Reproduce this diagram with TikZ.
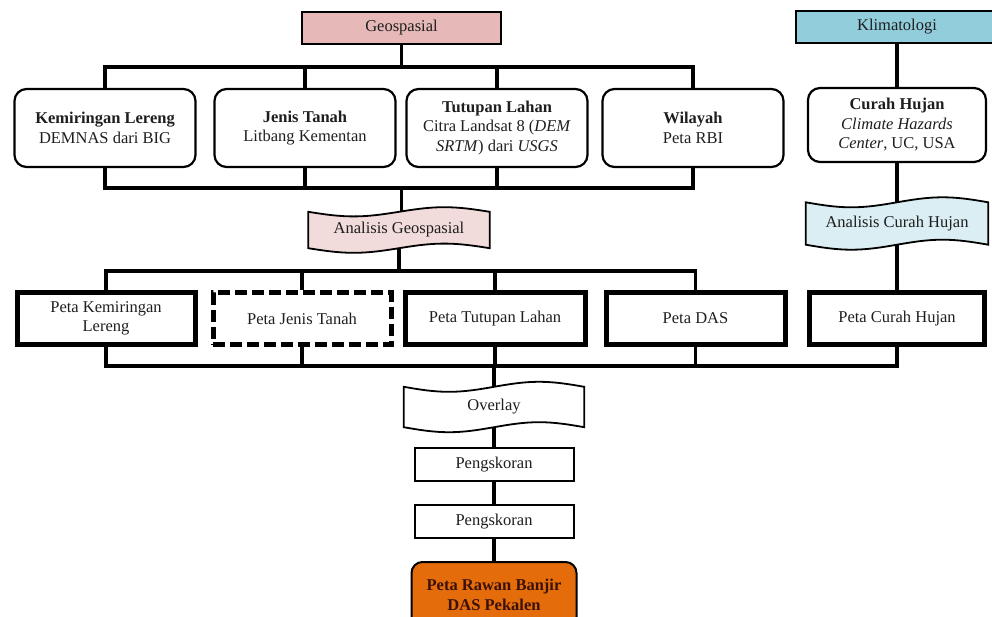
\documentclass[tikz,border=0pt]{standalone}
\usepackage{fontspec}
\setmainfont{Liberation Serif}
\usetikzlibrary{calc,backgrounds}
\definecolor{geofill}{RGB}{230,184,183}
\definecolor{klimfill}{RGB}{146,205,220}
\definecolor{agfill}{RGB}{242,220,219}
\definecolor{achfill}{RGB}{219,238,243}
\definecolor{finfill}{RGB}{228,108,10}
\definecolor{fintext}{RGB}{60,18,8}
\definecolor{txt}{RGB}{30,30,30}
\tikzset{
  every node/.style={font=\fontsize{16.5}{19.5}\selectfont, text=txt, align=center, inner sep=0pt},
  headbox/.style={draw=black, line width=2pt, minimum height=32pt},
  srcbox/.style={draw=black, line width=2.2pt, rounded corners=12pt, minimum width=181pt, minimum height=78pt},
  mapbox/.style={draw=black, line width=5pt, minimum width=178pt, minimum height=52pt},
  mapdash/.style={mapbox, dash pattern=on 12pt off 5pt},
  scorebox/.style={draw=black, line width=2pt, minimum width=159pt, minimum height=33pt},
  finalbox/.style={draw=black, line width=2pt, rounded corners=11pt, fill=finfill, minimum width=165pt, minimum height=66pt, text=fintext, font=\fontsize{16.5}{19.5}\selectfont\bfseries},
  tapenode/.style={minimum width=#1},
  conn/.style={draw=black, line width=3.2pt},
}
\newcommand\tapeshape[3]{%
  \begin{scope}[on background layer]
  \path let \p1=(#1.north west), \p2=(#1.south east), \n1={(\x2-\x1)/4} in
    [draw=black, line width=1.8pt, fill=#2]
    (\x1,\y1) sin ++(\n1,-#3) cos ++(\n1,#3) sin ++(\n1,#3) cos ++(\n1,-#3)
    -- (\x2,\y2) sin ++(-\n1,#3) cos ++(-\n1,-#3) sin ++(-\n1,-#3) cos ++(-\n1,#3) -- cycle;
  \end{scope}}
\begin{document}
\begin{tikzpicture}[x=1pt,y=-1pt]
\useasboundingbox (0,0) rectangle (992,616);
\clip (0,0) rectangle (992,616);

% headers
\node[headbox, fill=geofill, minimum width=199pt] (geo) at (401.5,28) {Geospasial};
\node[headbox, fill=klimfill, minimum width=202pt] (klim) at (897,27) {Klimatologi};

% source boxes
\node[srcbox] (kl) at (105,128) {\textbf{Kemiringan Lereng}\\DEMNAS dari BIG};
\node[srcbox] (jt) at (305,128) {\textbf{Jenis Tanah}\\Litbang Kementan};
\node[srcbox] (tl) at (497,128) {\textbf{Tutupan Lahan}\\Citra Landsat 8 (\textit{DEM}\\\textit{SRTM}) dari \textit{USGS}};
\node[srcbox] (wil) at (693,128) {\textbf{Wilayah}\\Peta RBI};
\node[srcbox, minimum width=178pt, minimum height=74pt] (ch) at (897,125) {\textbf{Curah Hujan}\\\textit{Climate Hazards}\\\textit{Center}, UC, USA};

% analysis tapes
\node[tapenode=181pt, minimum height=36pt] (ag) at (399,230) {Analisis Geospasial};
\tapeshape{ag}{agfill}{4.6pt}
\node[tapenode=182pt, minimum height=42pt] (ach) at (897,223.5) {Analisis Curah Hujan};
\tapeshape{ach}{achfill}{5pt}

% map boxes
\node[mapbox] (pkl) at (106,318.5) {Peta Kemiringan\\Lereng};
\node[mapdash] (pjt) at (302,318.5) {Peta Jenis Tanah};
\node[mapbox, minimum width=180pt] (ptl) at (495,318.5) {Peta Tutupan Lahan};
\node[mapbox, minimum width=179pt] (pdas) at (695.5,318.5) {Peta DAS};
\node[mapbox, minimum width=175pt] (pch) at (897,318.5) {Peta Curah Hujan};

% lower chain
\node[tapenode=180pt, minimum height=40pt] (ov) at (494,407) {Overlay};
\tapeshape{ov}{white}{5pt}
\node[scorebox] (s1) at (494,464.5) {Pengskoran};
\node[scorebox] (s2) at (494,521.5) {Pengskoran};
\node[finalbox] (fin) at (494,595) {Peta Rawan Banjir\\DAS Pekalen};

% bus coordinates
\coordinate (b1) at (401.5,67);
\coordinate (b2) at (401.5,188);
\coordinate (b3) at (399,271);
\coordinate (b4) at (494,366);

% connectors
\draw[conn] (geo.south) -- (b1);
\draw[conn] (kl.north) |- (b1) -| (wil.north);
\draw[conn] (jt.north) -- (jt.north |- b1);
\draw[conn] (tl.north) -- (tl.north |- b1);

\draw[conn] (kl.south) |- (b2) -| (wil.south);
\draw[conn] (jt.south) -- (jt.south |- b2);
\draw[conn] (tl.south) -- (tl.south |- b2);
\draw[conn] (b2) -- (b2 |- ag.north);

\draw[conn] (ag.south) -- (b3);
\draw[conn] (pkl.north) |- (b3) -| (pdas.north);
\draw[conn] (pjt.north) -- (pjt.north |- b3);
\draw[conn] (ptl.north) -- (ptl.north |- b3);

\draw[conn] (klim.south) -- (ch.north);
\draw[conn] (ch.south) -- (ach.north);
\draw[conn] (ach.south) -- (pch.north);

\draw[conn] (pkl.south) |- (b4) -| (pch.south);
\draw[conn] (pjt.south) -- (pjt.south |- b4);
\draw[conn] (ptl.south) -- (ptl.south |- b4);
\draw[conn] (pdas.south) -- (pdas.south |- b4);
\draw[conn] (b4) -- (ov.north);

\draw[conn] (ov.south) -- (s1.north);
\draw[conn] (s1.south) -- (s2.north);
\draw[conn] (s2.south) -- (fin.north);
\end{tikzpicture}
\end{document}
